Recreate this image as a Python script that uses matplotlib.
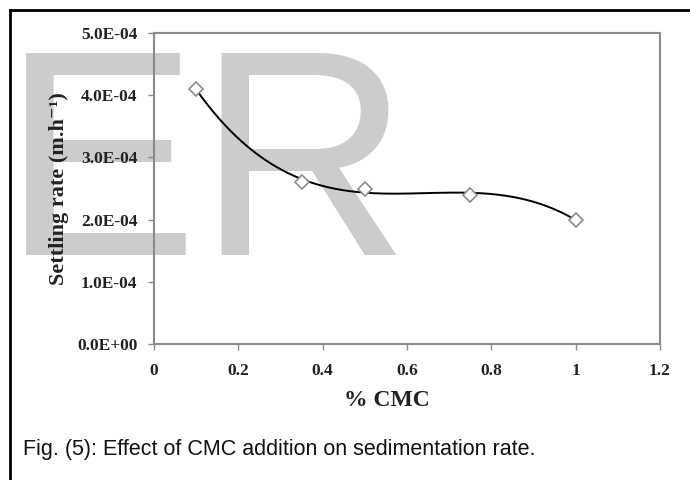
import numpy as np
import matplotlib
matplotlib.use('Agg')
import matplotlib.pyplot as plt
from matplotlib.ticker import FuncFormatter
from matplotlib.lines import Line2D

# data
cmc = [0.1, 0.35, 0.5, 0.75, 1.0]
rate = [4.1e-4, 2.6e-4, 2.5e-4, 2.4e-4, 2.0e-4]
xticks = [0, 0.2, 0.4, 0.6, 0.8, 1.0, 1.2]
yticks = [0, 1e-4, 2e-4, 3e-4, 4e-4, 5e-4]

serif = ['Liberation Serif', 'DejaVu Serif']
sans = ['Liberation Sans', 'DejaVu Sans']
grey = '#8a8a8a'

fig = plt.figure(figsize=(6.9, 4.8), dpi=100)

# watermark behind everything
fig.text(0.003, 1 - 255 / 480, 'ER', fontsize=212, family=sans,
         color='#cccccc', va='baseline', ha='left', zorder=-5)

ax = fig.add_axes([154 / 690, 1 - 344 / 480, 506 / 690, 311 / 480])
ax.patch.set_alpha(0)

# excel style polynomial trendline (order 3)
p = np.polyfit(cmc, rate, 3)
xs = np.linspace(min(cmc), max(cmc), 200)
ax.plot(xs, np.polyval(p, xs), color='black', lw=1.4, zorder=2)
ax.plot(cmc, rate, ls='none', marker='D', ms=7, mfc='white', mec=grey, mew=1.2, zorder=3)

ax.set_xlim(0, 1.2)
ax.set_ylim(0, 5e-4)
ax.set_xticks(xticks)
ax.set_yticks(yticks)
ax.xaxis.set_major_formatter(FuncFormatter(lambda v, pos: '%g' % v))
ax.yaxis.set_major_formatter(FuncFormatter(lambda v, pos: '%.1E' % v))

for s in ax.spines.values():
    s.set_color(grey)
    s.set_linewidth(1.5)
ax.tick_params(direction='out', length=4, width=1, color=grey)
ax.tick_params(axis='x', pad=10)
ax.tick_params(axis='y', pad=8)
for lab in ax.get_xticklabels() + ax.get_yticklabels():
    lab.set_family(serif)
    lab.set_fontweight('bold')
    lab.set_fontsize(12.5)
    lab.set_color('#222222')

ax.set_xlabel('% CMC', family=serif, fontweight='bold', fontsize=17, color='#222222')
ax.xaxis.set_label_coords((387 - 154) / 506, -0.147)
ax.set_ylabel('Settling rate (m.h\u207b\u00b9)', family=serif, fontweight='bold',
              fontsize=16, color='#222222', labelpad=6)

fig.text(23 / 690, 1 - 450 / 480, 'Fig. (5): Effect of CMC addition on sedimentation rate.',
         family=sans, fontsize=15.5, color='#111111', va='center', ha='left')

# page border (top and left only, image is cropped)
fig.add_artist(Line2D([10 / 690, 1], [1 - 10 / 480, 1 - 10 / 480], color='black', lw=2))
fig.add_artist(Line2D([10 / 690, 10 / 690], [0, 1 - 10 / 480], color='black', lw=2))

fig.savefig('out.png', dpi=100)
